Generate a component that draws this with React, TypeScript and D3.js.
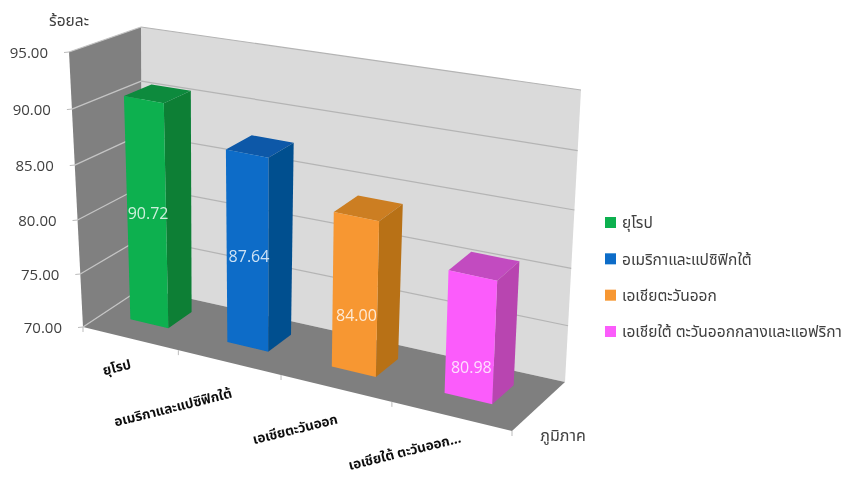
import React from "react";
import * as d3 from "d3";

const categories = ["ยุโรป", "อเมริกาและแปซิฟิกใต้", "เอเชียตะวันออก", "เอเชียใต้ ตะวันออกกลางและแอฟริกา"];
const axisLabels = ["ยุโรป", "อเมริกาและแปซิฟิกใต้", "เอเชียตะวันออก", "เอเชียใต้ ตะวันออก..."];
const values = [90.72, 87.64, 84.0, 80.98];
const labelLevels = [80.4, 78.4, 75.2, 72.9];
const yTicks = [70, 75, 80, 85, 90, 95];
const faceColors = ["#0BB04F", "#0A6CC8", "#F79731", "#FB5CFB"];
const sideColors = ["#0A7F36", "#064F8F", "#B87118", "#B845B0"];
const topColors = ["#0A8A3C", "#0A58A8", "#CC7E20", "#C24CC0"];

type P = [number, number];
function homography(p00: P, p10: P, p11: P, p01: P) {
  const [x0, y0] = p00, [x1, y1] = p10, [x2, y2] = p11, [x3, y3] = p01;
  const dx1 = x1 - x2, dx2 = x3 - x2, sx = x0 - x1 + x2 - x3;
  const dy1 = y1 - y2, dy2 = y3 - y2, sy = y0 - y1 + y2 - y3;
  const den = dx1 * dy2 - dx2 * dy1;
  const g = (sx * dy2 - dx2 * sy) / den, h = (dx1 * sy - sx * dy1) / den;
  const a = x1 - x0 + g * x1, b = x3 - x0 + h * x3;
  const d = y1 - y0 + g * y1, e = y3 - y0 + h * y3;
  return (u: number, v: number): P => {
    const w = g * u + h * v + 1;
    return [(a * u + b * v + x0) / w, (d * u + e * v + y0) / w];
  };
}
const floorAt = homography([83, 327], [512, 431], [565, 382], [142, 288]);
const bilinear = (c00: number, c10: number, c11: number, c01: number) => (u: number, v: number) =>
  (c00 * (1 - u) + c10 * u) * (1 - v) + (c01 * (1 - u) + c11 * u) * v;
const riseAt = bilinear(275, 290, 292, 261);
const leanAt = bilinear(-14, 12, 16, -1);
const level = d3.scaleLinear().domain([70, 95]).range([0, 1]);
const PERSPECTIVE = 0.047;
const project = (u: number, v: number, val: number): P => {
  const f = floorAt(u, v), l = level(val), t = l / (1 + PERSPECTIVE * (1 - l));
  return [f[0] + leanAt(u, v) * t, f[1] - riseAt(u, v) * t];
};
const poly = (pts: P[]) => d3.line()(pts)! + "Z";
const band = d3.scaleBand<string>().domain(categories).range([0, 1]).paddingInner(0.6).paddingOuter(0.3);
const V0 = 0.35, V1 = 0.75;
const labelShiftX = [2, 4, 3, 11];
const labelShiftY = [30, 35, 35, 26];
const tickFont = "'Open Sans','Noto Sans','Noto Sans Thai','DejaVu Sans',sans-serif";

export default function App() {
  return (
    <svg width={847} height={477} style={{ position: "absolute", left: 0, top: 0, background: "#fff" }} fontFamily={tickFont}>
      <defs>
        <filter id="soft" x="-5%" y="-5%" width="110%" height="110%"><feGaussianBlur stdDeviation="0.55" /></filter>
      </defs>
      <g filter="url(#soft)">
        <path d={poly([project(0, 1, 70), project(1, 1, 70), project(1, 1, 95), project(0, 1, 95)])} fill="#DADADA" />
        <path d={poly([project(0, 0, 70), project(0, 1, 70), project(0, 1, 95), project(0, 0, 95)])} fill="#808080" />
        <path d={poly([project(0, 0, 70), project(1, 0, 70), project(1, 1, 70), project(0, 1, 70)])} fill="#7F7F7F" />
        {yTicks.map((t) => (
          <g key={t} fill="none">
            <path d={d3.line()([project(0, 0, t), project(0, 1, t)])!} stroke="#C4C4C4" strokeWidth={1.3} />
            {t > 70 && <path d={d3.line()([project(0, 1, t), project(1, 1, t)])!} stroke="#B4B4B4" strokeWidth={1.2} />}
            <path d={d3.line()([[project(0, 0, t)[0] - 5, project(0, 0, t)[1] + 0.5], project(0, 0, t)])!} stroke="#BBB" />
          </g>
        ))}
        {d3.range(5).map((i) => {
          const p = project(i / 4, 0, 70);
          return <path key={i} d={d3.line()([p, [p[0], p[1] + 5]])!} stroke="#BBB" fill="none" />;
        })}
        {categories.map((c, i) => {
          const u0 = band(c)! - 0.004, u1 = u0 + band.bandwidth(), val = values[i];
          return (
            <g key={c}>
              <path d={poly([project(u0, V0, val), project(u1, V0, val), project(u1, V1, val), project(u0, V1, val)])} fill={topColors[i]} />
              <path d={poly([project(u1, V0, 70), project(u1, V1, 70), project(u1, V1, val), project(u1, V0, val)])} fill={sideColors[i]} />
              <path d={poly([project(u0, V0, 70), project(u1, V0, 70), project(u1, V0, val), project(u0, V0, val)])} fill={faceColors[i]} />
            </g>
          );
        })}
        {categories.map((c, i) => {
          const p = project(band(c)! + band.bandwidth() / 2, V0, labelLevels[i]);
          return <text key={c} x={p[0]} y={p[1]} dy="0.35em" textAnchor="middle" fontSize={16} fill="#fff" fillOpacity={0.8}>{values[i].toFixed(2)}</text>;
        })}
        {yTicks.map((t) => {
          const p = project(0, 0, t);
          return <text key={t} x={p[0] - 21} y={p[1] + 1} dy="0.35em" textAnchor="end" fontSize={15} fill="#404040">{t.toFixed(2)}</text>;
        })}
        {axisLabels.map((c, i) => {
          const cu = band(categories[i])! + band.bandwidth() / 2;
          const p = project(cu, 0, 70);
          return <text key={c} transform={`translate(${p[0] + labelShiftX[i]},${p[1] + labelShiftY[i]}) rotate(-14)`} textAnchor="end" fontSize={13.5} fontWeight={700} fill="#111">{c}</text>;
        })}
        <text x={69} y={26} textAnchor="middle" fontSize={15.5} fill="#404040">ร้อยละ</text>
        <text x={563} y={441} textAnchor="middle" fontSize={16} fill="#404040">ภูมิภาค</text>
        {categories.map((c, i) => {
          const y = d3.scalePoint<string>().domain(categories).range([223, 332])(c)!;
          return (
            <g key={c}>
              <rect x={605} y={y - 6} width={11} height={11} fill={faceColors[i]} />
              <text x={622} y={y} dy="0.35em" fontSize={15.5} fill="#404040">{c}</text>
            </g>
          );
        })}
      </g>
    </svg>
  );
}
